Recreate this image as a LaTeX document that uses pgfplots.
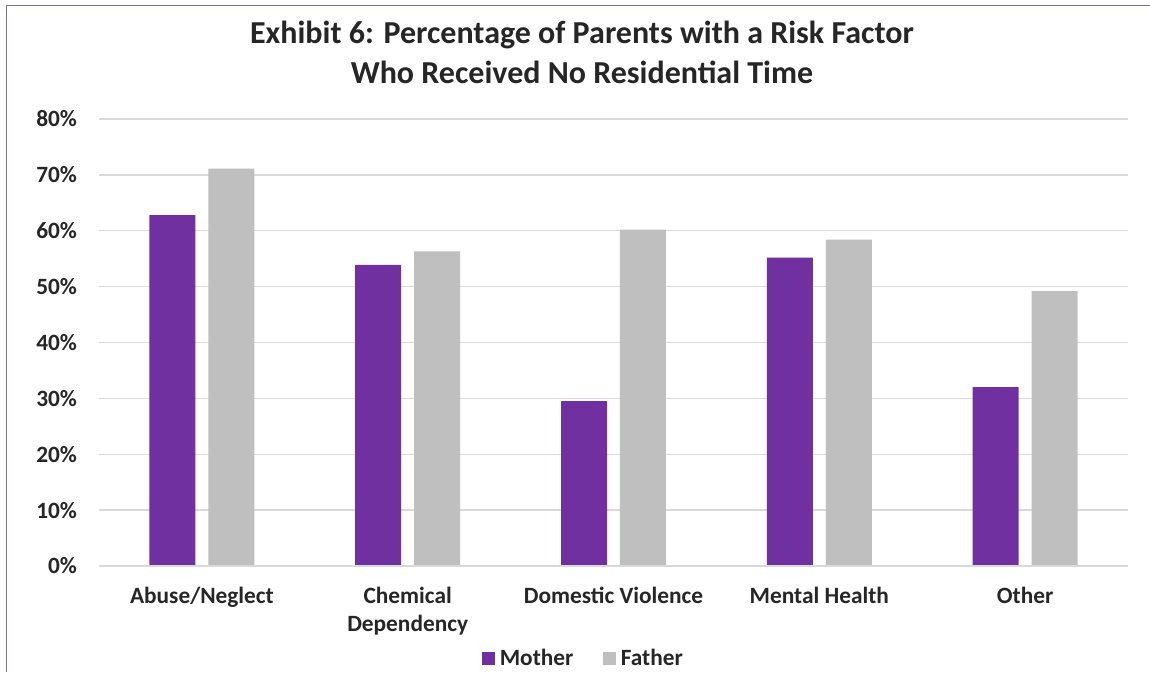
\documentclass[border=0pt]{standalone}
\usepackage{pgfplots}
\pgfplotsset{compat=1.18}
\usepackage{fontspec}
\setmainfont{Carlito}

\definecolor{mother}{HTML}{7030A0}
\definecolor{father}{HTML}{BFBFBF}
\definecolor{gridgray}{HTML}{D9D9D9}
\definecolor{framecol}{HTML}{7B6F98}
\definecolor{txt}{HTML}{262626}

\pgfplotstableread{
x  mother father
0  62.8   71.1
1  53.9   56.3
2  29.5   60.2
3  55.2   58.4
4  32.0   49.2
}\risktable

\begin{document}
\begin{tikzpicture}
% page area (1 unit = 0.75pt, measured from the top left corner)
\begin{scope}[x=0.75pt,y=-0.75pt,shift={(0,504pt)}]
  \fill[white] (0,0) rectangle (1150,672);
  \draw[framecol,line width=1pt] (6.5,672) -- (6.5,5.5) -- (1150,5.5);
  \node[font=\fontsize{24pt}{30pt}\selectfont\bfseries,text=txt,align=center,anchor=center]
    at (582,52) {Exhibit 6: Percentage of Parents with a Risk Factor\\Who Received No Residential Time};
\end{scope}

\begin{axis}[
  at={(74.25pt,79.5pt)}, anchor=south west,
  scale only axis,
  width=771.75pt, height=335.25pt,
  ymin=0, ymax=80,
  xmin=-0.5, xmax=4.5,
  ybar, bar width=34.5pt,
  ytick={0,10,...,80},
  yticklabel={\pgfmathprintnumber{\tick}\%},
  /pgf/number format/assume math mode=true,
  xtick={0,1,2,3,4},
  xticklabels={Abuse/Neglect, {Chemical\\Dependency}, Domestic Violence, Mental Health, Other},
  xticklabel style={align=center, font=\fontsize{17.5pt}{21pt}\selectfont\bfseries, text=txt, yshift=-12pt},
  yticklabel style={font=\fontsize{17.5pt}{21pt}\selectfont\bfseries, text=txt, xshift=-13pt},
  major tick length=0pt,
  axis line style={draw=none},
  ymajorgrids, major grid style={gridgray, line width=1pt},
  legend style={at={(0.471,-0.207)}, anchor=center, draw=none, fill=none,
    legend columns=-1, font=\fontsize{17.5pt}{21pt}\selectfont\bfseries, text=txt,
    /tikz/every even column/.append style={column sep=20pt},
    /tikz/every odd column/.append style={column sep=1.5pt}},
  legend image code/.code={\fill[#1] (0pt,-5pt) rectangle (10pt,5pt);},
  clip=false,
]
\addplot[fill=mother, draw=none, bar shift=-22.1pt] table[x=x,y=mother] {\risktable};
\addplot[fill=father, draw=none, bar shift=22.1pt] table[x=x,y=father] {\risktable};
\draw[gridgray, line width=1pt] (axis cs:-0.5,0) -- (axis cs:4.5,0);
\legend{Mother, Father}
\end{axis}
\pgfresetboundingbox
\useasboundingbox (0,0) rectangle (862.5pt,504pt);
\end{tikzpicture}
\end{document}
